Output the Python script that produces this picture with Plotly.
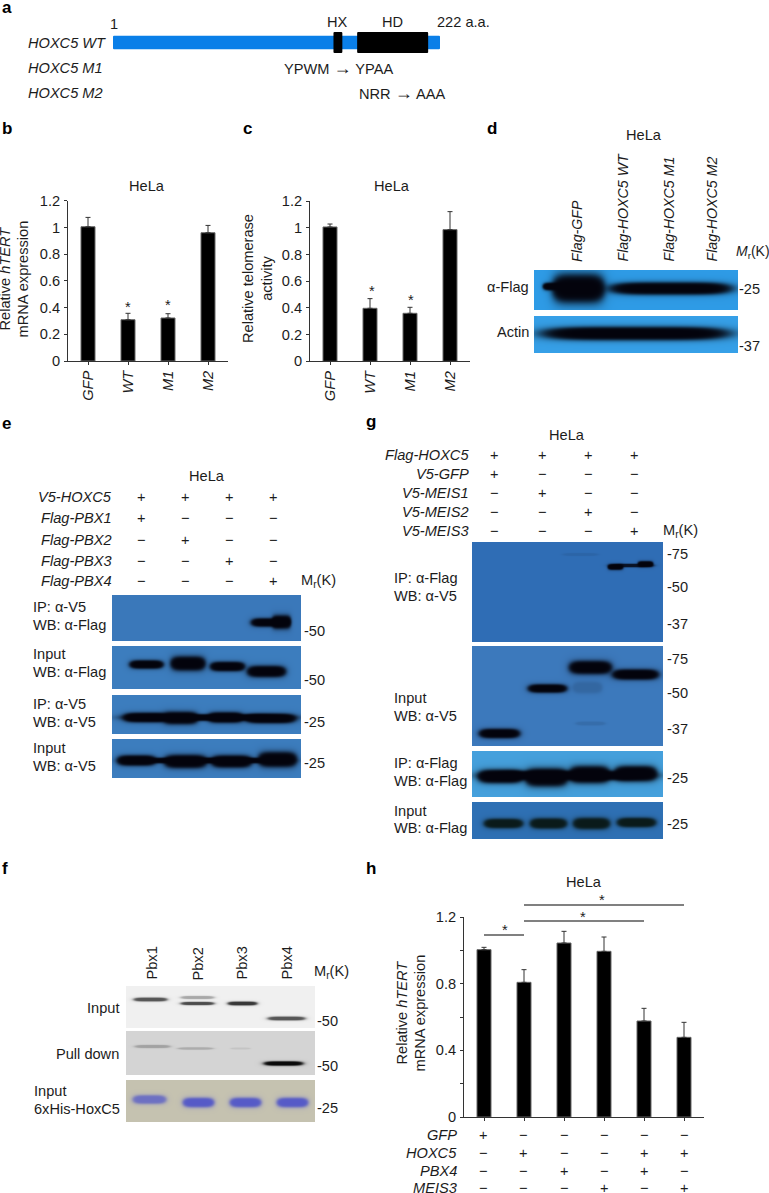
import numpy as np
import plotly.graph_objects as go

W, H = 769, 1193
FONT = "Liberation Sans"
INK = "#1c1c1c"
BASE = 14.6

# ---------- bar chart data ----------
b_categories = ["GFP", "WT", "M1", "M2"]
b_values = [1.005, 0.309, 0.322, 0.96]
b_errors = [0.07, 0.048, 0.032, 0.055]
c_values = [1.0075, 0.3975, 0.36, 0.9875]
c_errors = [0.022, 0.0725, 0.045, 0.135]
h_values = [1.004, 0.808, 1.044, 0.994, 0.576, 0.478]
h_errors = [0.014, 0.076, 0.07, 0.086, 0.076, 0.09]
h_rows = ["GFP", "HOXC5", "PBX4", "MEIS3"]
h_signs = ["+-----", "-+--++", "--+-+-", "---+-+"]
h_bracket_from = [0, 1, 1]
h_bracket_to = [1, 4, 5]
h_bracket_level = [1.092, 1.176, 1.272]
bc_ticks = [0, 0.2, 0.4, 0.6, 0.8, 1, 1.2]
bc_tick_text = ["0", "0.2", "0.4", "0.6", "0.8", "1", "1.2"]
h_ticks = [0, 0.4, 0.8, 1.2]
h_tick_text = ["0", "0.4", "0.8", "1.2"]
h_minor_ticks = [0.2, 0.6, 1.0]

# ---------- protein domains (amino acids) ----------
protein_start = [1, 150, 166]
protein_end = [222, 156, 214]

# ---------- co-IP sign tables ----------
e_rows = ["V5-HOXC5", "Flag-PBX1", "Flag-PBX2", "Flag-PBX3", "Flag-PBX4"]
e_signs = ["++++", "+---", "-+--", "--+-", "---+"]
g_rows = ["Flag-HOXC5", "V5-GFP", "V5-MEIS1", "V5-MEIS2", "V5-MEIS3"]
g_signs = ["++++", "+---", "-+--", "--+-", "---+"]

# ---------- gel bands: (centre x, centre y, half length, half thickness, strength) ----------
d1_bands = [(578, 288, 27, 15, 1), (553, 286, 11, 4, 1), (670, 288, 63, 6.5, 1)]
d2_bands = [(635, 333, 96, 7, 1)]
e1_bands = [(268, 622, 18, 4.5, 1), (281, 621.5, 10, 7, 1)]
e2_bands = [(146, 664, 17.5, 4.5, 1), (187.5, 663, 18, 7.5, 1), (227, 666, 18, 5, 1), (266, 671, 20, 6, 1)]
e3_bands = [(146, 717, 24, 5, 1), (180, 717.5, 18, 6.5, 1), (225, 717, 18, 5.5, 1), (270, 718, 26, 5, 1), (208, 717, 85, 3.5, 1)]
e4_bands = [(136, 760, 20, 5.5, 1), (185, 761, 22, 7, 1), (231, 761, 21, 6.5, 1), (277, 759, 20, 8, 1), (208, 760, 80, 3, 1)]
g1_bands = [(631, 565, 22, 1.8, 0.85), (615, 566.5, 8, 3, 1), (645, 563.5, 8, 3, 1), (580, 554, 18, 1.5, 0.08)]
g2_bands = [(499, 733, 21, 5, 1), (547, 688, 20, 4.5, 1), (590, 667, 22, 7, 1), (635, 674, 24, 5.5, 1),
            (587, 687, 15, 6, 0.15), (590, 723, 15, 2, 0.1)]
g3_bands = [(500, 776, 23, 7, 1), (546, 777, 22, 9.5, 1), (589, 774, 21, 9, 1), (635, 773, 22, 8, 1), (567, 775, 88, 5, 1)]
g4_bands = [(503, 823, 20, 5, 1), (548, 823, 19, 5.5, 1), (591, 823, 19, 6, 1), (636, 822, 20, 5, 1)]
f1_bands = [(150, 999, 17, 2, 0.75), (197, 1003, 17, 1.7, 0.8), (197, 997, 17, 1.6, 0.35), (242, 1003, 15, 2, 0.9), (286, 1018, 19, 2, 0.75)]
f2_bands = [(152, 1046, 18, 1.6, 0.25), (195, 1048, 18, 1.2, 0.2), (240, 1048, 10, 1, 0.08), (283, 1063, 20, 2.3, 1)]
f3_bands = [(149, 1099, 17, 4.5, 0.75), (198, 1102, 16, 5, 0.95), (245, 1102, 16, 5, 0.95), (292, 1102, 16, 5, 0.95)]


fig = go.Figure()
axis_count = [0]
notes = []


def px_x(x):
    return x / W


def px_y(y):
    return 1 - y / H


def new_axes(x0, y0, x1, y1, xopts, yopts):
    axis_count[0] += 1
    n = axis_count[0]
    suffix = "" if n == 1 else str(n)
    fig.layout["xaxis" + suffix] = dict(domain=[px_x(x0), px_x(x1)], anchor="y" + suffix, automargin=False, **xopts)
    fig.layout["yaxis" + suffix] = dict(domain=[px_y(y1), px_y(y0)], anchor="x" + suffix, automargin=False, **yopts)
    return "x" + suffix, "y" + suffix


def text(x, y, s, size=BASE, anchor="left", angle=0, yanchor="middle", color=INK):
    notes.append(dict(x=px_x(x), y=px_y(y), xref="paper", yref="paper", text=s, showarrow=False,
                      xanchor=anchor, yanchor=yanchor, textangle=angle, borderpad=0, borderwidth=0,
                      font=dict(family=FONT, size=size, color=color)))


def blot(x0, y0, x1, y1, bands, bg, ink="#03030c"):
    off = dict(visible=False, showgrid=False, zeroline=False)
    xa, ya = new_axes(x0, y0, x1, y1, dict(range=[x0, x1], **off), dict(range=[y1, y0], **off))
    xs = np.arange(x0, x1 + 0.5, 1.0)
    ys = np.arange(y0, y1 + 0.5, 1.0)
    gx, gy = np.meshgrid(xs, ys)
    keep = np.ones_like(gx)
    for cx, cy, hw, ht, amp in bands:
        d = (np.abs(gx - cx) / hw) ** 5 + (np.abs(gy - cy) / ht) ** 2
        keep *= 1 - amp / (1 + d ** 3)
    z = np.round(1 - keep, 3)
    fig.add_trace(go.Heatmap(x=xs, y=ys, z=z, zmin=0, zmax=1, colorscale=[[0, bg], [1, ink]], showscale=False,
                             zsmooth="best", hoverinfo="skip", xaxis=xa, yaxis=ya))


def bars(x0, y0, x1, y1, values, errors, ytickvals, yticktext, xticktext=None, yminor=None):
    n = len(values)
    line = dict(showline=True, linecolor="#333333", linewidth=1, showgrid=False, zeroline=False,
                ticks="outside", ticklen=3, tickcolor="#333333", tickwidth=1,
                tickfont=dict(family=FONT, size=BASE, color=INK))
    xo = dict(line, range=[-0.5, n - 0.5], tickvals=list(range(n)), tickangle=-90)
    if xticktext:
        xo["ticktext"] = xticktext
    else:
        xo["showticklabels"] = False
    yo = dict(line, range=[0, 1.2], tickvals=ytickvals, ticktext=yticktext, ticklabelstandoff=1)
    if yminor:
        yo["minor"] = dict(tickvals=yminor, ticks="outside", ticklen=3, tickcolor="#333333", tickwidth=1,
                           showgrid=False)
    xa, ya = new_axes(x0, y0, x1, y1, xo, yo)
    fig.add_trace(go.Bar(x=list(range(n)), y=values, width=0.35, xaxis=xa, yaxis=ya,
                         marker=dict(color="#000000", line=dict(color="#666666", width=1)),
                         error_y=dict(type="data", symmetric=False, array=errors, arrayminus=[0] * n,
                                      color="#333333", thickness=1, width=2.5),
                         hoverinfo="skip"))
    return xa, ya


def star(x, y):
    text(x, y + 3, "*", size=BASE, anchor="center")


ARROW = '<span style="font-size:18px">→</span>'

# ---------- panel letters ----------
for letter, lx, ly in [("a", 2, 8), ("b", 2, 128), ("c", 243, 129), ("d", 487, 129),
                       ("e", 2, 423), ("g", 366, 421), ("f", 2, 868), ("h", 366, 868)]:
    text(lx, ly, "<b>%s</b>" % letter, size=17, color="#000000")

# ---------- panel a ----------
xa, ya = new_axes(113, 32, 440, 53, dict(range=[1, 222], visible=False), dict(range=[-1, 1], visible=False))
heights = [1.3, 2, 2]
shades = ["#0a7fe8", "#000000", "#000000"]
for s, e, t, col in zip(protein_start, protein_end, heights, shades):
    fig.add_trace(go.Bar(y=[0], x=[e - s], base=[s], width=t, orientation="h", xaxis=xa, yaxis=ya,
                         marker=dict(color=col, line=dict(width=0), cornerradius=1), hoverinfo="skip"))
text(114, 24, "1", anchor="center")
text(337, 22, "HX", anchor="center")
text(392, 22, "HD", anchor="center")
text(437, 22, "222 a.a.")
text(28, 43, "<i>HOXC5 WT</i>")
text(28, 68, "<i>HOXC5 M1</i>")
text(28, 93, "<i>HOXC5 M2</i>")
text(284, 68, "YPWM " + ARROW + " YPAA")
text(359, 93, "NRR " + ARROW + " AAA")

# ---------- panel b ----------
italics = ["<i>%s</i>" % c for c in b_categories]
bars(68, 200.7, 228, 361, b_values, b_errors, bc_ticks, bc_tick_text, italics)
text(147, 186, "HeLa", anchor="center")
text(14.5, 279, "Relative <i>hTERT</i><br>mRNA expression", anchor="center", angle=-90)
star(128, 304)
star(168, 302)

# ---------- panel c ----------
bars(310, 201.3, 470, 361.3, c_values, c_errors, bc_ticks, bc_tick_text, italics)
text(392, 186, "HeLa", anchor="center")
text(258, 279, "Relative telomerase<br>activity", anchor="center", angle=-90)
star(372, 288)
star(411, 297)

# ---------- panel d ----------
text(644, 135, "HeLa", anchor="center")
for lab, lx in [("Flag-GFP", 577), ("Flag-HOXC5 WT", 622), ("Flag-HOXC5 M1", 668), ("Flag-HOXC5 M2", 711)]:
    text(lx, 262, "<i>%s</i>" % lab, size=14.2, anchor="center", angle=-90, yanchor="bottom")
text(736, 252, "<i>M</i><sub>r</sub>(K)", size=14)
blot(534, 270, 738, 310, d1_bands, "#2e9be6")
blot(534, 316, 738, 353, d2_bands, "#36a0e8")
text(529, 287, "α-Flag", anchor="right")
text(529, 332, "Actin", anchor="right")
text(739, 289, "-25")
text(739, 346, "-37")

# ---------- panel e ----------
text(207, 476, "HeLa", anchor="center")
e_cols = [141, 185, 229, 273]
e_row_y = [497, 518, 540, 561, 581]
for lab, sig, ry in zip(e_rows, e_signs, e_row_y):
    text(112, ry, "<i>%s</i>" % lab, anchor="right")
    for ch, cx in zip(sig, e_cols):
        text(cx, ry, "+" if ch == "+" else "−", anchor="center")
text(301, 581, "M<sub>r</sub>(K)")
blot(112, 595, 301, 641, e1_bands, "#3a78ba")
blot(112, 646, 301, 689, e2_bands, "#3c7dbe")
blot(112, 695, 301, 734, e3_bands, "#3c7dbe")
blot(112, 739, 301, 778, e4_bands, "#3c7dbe")
for s, ty in [("IP: α-V5", 607), ("WB: α-Flag", 625), ("Input", 654), ("WB: α-Flag", 672),
              ("IP: α-V5", 704), ("WB: α-V5", 722), ("Input", 748), ("WB: α-V5", 766)]:
    text(33, ty, s)
for s, ty in [("-50", 631), ("-50", 680), ("-25", 722), ("-25", 763)]:
    text(304, ty, s)

# ---------- panel g ----------
text(567, 435, "HeLa", anchor="center")
g_cols = [495, 542, 588, 634]
g_row_y = [455, 474, 493, 512, 531]
for lab, sig, ry in zip(g_rows, g_signs, g_row_y):
    text(469, ry, "<i>%s</i>" % lab, anchor="right")
    for ch, cx in zip(sig, g_cols):
        text(cx, ry, "+" if ch == "+" else "−", anchor="center")
text(663, 531, "M<sub>r</sub>(K)")
blot(472, 542, 663, 642, g1_bands, "#2f6db5")
blot(472, 646, 663, 746, g2_bands, "#3c79bc")
blot(472, 751, 663, 797, g3_bands, "#45a0dc")
blot(472, 802, 663, 839, g4_bands, "#2e70b4", ink="#0a1a1a")
for s, ty in [("IP: α-Flag", 578), ("WB: α-V5", 596), ("Input", 698), ("WB: α-V5", 716),
              ("IP: α-Flag", 763), ("WB: α-Flag", 781), ("Input", 811), ("WB: α-Flag", 828)]:
    text(394, ty, s)
for s, ty in [("-75", 554), ("-50", 587), ("-37", 624), ("-75", 659), ("-50", 693), ("-37", 729),
              ("-25", 778), ("-25", 824)]:
    text(667, ty, s)

# ---------- panel f ----------
for lab, lx in [("Pbx1", 151), ("Pbx2", 197), ("Pbx3", 241), ("Pbx4", 286)]:
    text(lx, 980, lab, anchor="center", angle=-90, yanchor="bottom")
text(314, 972, "M<sub>r</sub>(K)")
blot(126, 986, 315, 1028, f1_bands, "#f0f0f0", ink="#222222")
blot(126, 1031, 315, 1075, f2_bands, "#d4d4d4", ink="#0a0a0a")
blot(126, 1080, 315, 1122, f3_bands, "#c5c2b0", ink="#5055c8")
text(119, 1008, "Input", anchor="right")
text(119, 1054, "Pull down", anchor="right")
text(34, 1091, "Input")
text(34, 1109, "6xHis-HoxC5")
for s, ty in [("-50", 1021), ("-50", 1066), ("-25", 1108)]:
    text(317, ty, s)

# ---------- panel h ----------
bars(464, 917, 704, 1117, h_values, h_errors, h_ticks, h_tick_text, yminor=h_minor_ticks)
# brackets live on a taller invisible axis pair so that they can rise above the 1.2 tick
xb, yb = new_axes(464, 1117 - 1.3 / 1.2 * 200, 704, 1117,
                  dict(range=[-0.5, 5.5], visible=False), dict(range=[0, 1.3], visible=False))
for a, b, lev in zip(h_bracket_from, h_bracket_to, h_bracket_level):
    fig.add_trace(go.Scatter(x=[a, b], y=[lev, lev], mode="lines", xaxis=xb, yaxis=yb,
                             line=dict(color="#808080", width=2), hoverinfo="skip"))
star(505, 927)
star(583, 914)
star(602, 897)
text(584, 882, "HeLa", anchor="center")
text(410.5, 1013, "Relative <i>hTERT</i><br>mRNA expression", anchor="center", angle=-90)
h_cols = [483, 523, 564, 604, 644, 684]
h_row_y = [1135, 1153, 1171, 1188]
for lab, sig, ry in zip(h_rows, h_signs, h_row_y):
    text(457, ry, "<i>%s</i>" % lab, anchor="right")
    for ch, cx in zip(sig, h_cols):
        text(cx, ry, "+" if ch == "+" else "−", anchor="center")

fig.update_layout(template="none", width=W, height=H, margin=dict(l=0, r=0, t=0, b=0, pad=0), autosize=False,
                  paper_bgcolor="#ffffff", plot_bgcolor="rgba(0,0,0,0)", showlegend=False, barmode="overlay",
                  annotations=notes, font=dict(family=FONT, size=BASE, color=INK))
fig.write_html("out.html", config=dict(displayModeBar=False),
               post_script="document.body.style.margin='0';document.body.style.overflow='hidden';")
